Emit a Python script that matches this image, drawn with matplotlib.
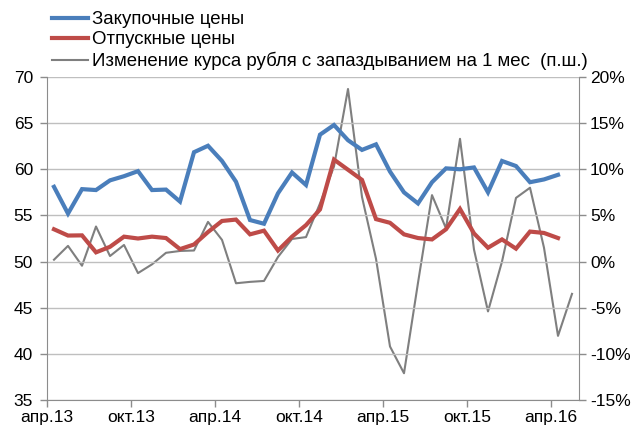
import matplotlib
matplotlib.use("Agg")
import matplotlib.pyplot as plt
import numpy as np

plt.rcParams['font.family'] = ['Liberation Sans', 'DejaVu Sans']

tick_labels = ["апр.13", "окт.13", "апр.14", "окт.14", "апр.15", "окт.15", "апр.16"]

purchase = [58.1, 55.2, 57.85, 57.75, 58.8, 59.25, 59.8, 57.75, 57.8, 56.5,
            61.85, 62.55, 60.9, 58.65, 54.5, 54.1, 57.4, 59.65, 58.3, 63.75,
            64.8, 63.15, 62.1, 62.7, 59.75, 57.5, 56.3, 58.6, 60.1, 60.0,
            60.2, 57.5, 60.9, 60.35, 58.6, 58.9, 59.4]

selling = [53.5, 52.82, 52.84, 51.0, 51.6, 52.7, 52.5, 52.7, 52.55, 51.35,
           51.85, 53.2, 54.4, 54.55, 52.95, 53.35, 51.2, 52.7, 53.95, 55.65,
           61.05, 59.95, 58.85, 54.6, 54.2, 52.95, 52.55, 52.4, 53.5, 55.7,
           53.05, 51.5, 52.4, 51.4, 53.25, 53.1, 52.55]

rub_change = [0.2, 1.7, -0.45, 3.8, 0.6, 1.8, -1.25, -0.3, 0.95, 1.15,
              1.2, 4.3, 2.35, -2.35, -2.2, -2.1, 0.5, 2.45, 2.65, 6.3,
              10.3, 18.7, 7.0, 0.3, -9.2, -12.1, -2.3, 7.2, 3.6, 13.3,
              1.3, -5.4, 0.0, 6.9, 8.0, 1.5, -8.05, -3.5]

labels = ["Закупочные цены", "Отпускные цены",
          "Изменение курса рубля с запаздыванием на 1 мес  (п.ш.)"]

BLUE = "#4A7EBB"
RED = "#BE4B48"
GRAY = "#7F7F7F"
GRID = "#BFBFBF"
AXC = "#8C8C8C"
FS = 12.5
LFS = 13.4

fig = plt.figure(figsize=(6.33, 4.32), dpi=100)
ax = fig.add_axes([47/633, 1-400/432, (579-47)/633, (400-77)/432])
ax2 = ax.twinx()

n_cat = len(rub_change)
x_p = np.arange(len(purchase))
x_s = np.arange(len(selling))
x_r = np.arange(len(rub_change))

l1, = ax.plot(x_p, purchase, color=BLUE, lw=3.0, solid_joinstyle='miter', zorder=4)
l2, = ax.plot(x_s, selling, color=RED, lw=3.0, solid_joinstyle='miter', zorder=3)
l3, = ax2.plot(x_r, rub_change, color=GRAY, lw=1.5, zorder=2)

ax.set_zorder(ax2.get_zorder() + 1)
ax.patch.set_visible(False)

ax.set_xlim(-0.5, n_cat - 0.5)
ax.set_ylim(35, 70)
ax.set_yticks(np.arange(35, 71, 5))
ax2.set_ylim(-15, 20)
ax2.set_yticks(np.arange(-15, 21, 5))
ax2.set_yticklabels([f"{v}%" for v in range(-15, 21, 5)])

ticks = np.arange(len(tick_labels)) * 6 - 0.5
ax.set_xticks(ticks)
ax.set_xticklabels(tick_labels)

ax.grid(axis='y', color=GRID, lw=1.0)
ax.set_axisbelow(True)

for a in (ax, ax2):
    a.spines['top'].set_visible(False)
    a.spines['left'].set_color(AXC)
    a.spines['right'].set_color(AXC)
    a.spines['bottom'].set_color(AXC)
    a.tick_params(axis='both', labelsize=FS, colors=AXC, labelcolor='black',
                  length=5, width=1, direction='out')
ax.spines['right'].set_visible(False)
ax2.spines['left'].set_visible(False)
ax2.spines['bottom'].set_visible(False)
ax.tick_params(axis='x', pad=2)
ax.tick_params(axis='y', pad=5)
ax2.tick_params(axis='y', pad=3)

fig.legend([l1, l2, l3], labels, loc='upper left',
           bbox_to_anchor=(52/633, 1-11/432), bbox_transform=fig.transFigure,
           frameon=False, fontsize=LFS, handlelength=1.95, handletextpad=0.2,
           labelspacing=0.18, borderpad=0, borderaxespad=0)

fig.savefig("out.png", dpi=100)
